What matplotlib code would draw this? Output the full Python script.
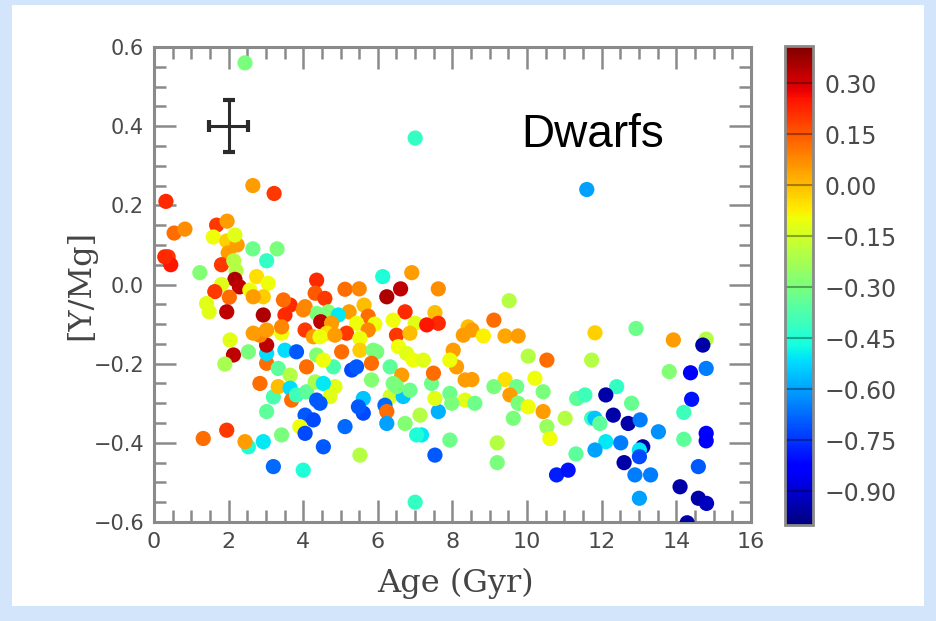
import numpy as np
import matplotlib
matplotlib.use('Agg')
import matplotlib.pyplot as plt
from matplotlib.patches import Rectangle
from matplotlib.ticker import MultipleLocator, FuncFormatter

# stellar age (Gyr), [Y/Mg] abundance and colour value ([Fe/H]) per star
age = [2.44, 7.00, 11.60, 2.65, 3.22, 0.32, 0.54, 0.83, 0.38, 0.45, 0.29, 1.23,
       1.68, 1.96, 1.59, 1.95, 2.23, 2.17, 1.99, 1.81, 2.14, 2.20, 2.65, 3.30,
       3.02, 2.17, 1.81, 2.29, 1.63, 2.02, 1.41, 1.48, 1.95, 2.57, 2.75, 3.06,
       2.93, 2.66, 2.93, 3.51, 3.65, 3.47, 4.05, 4.36, 4.32, 6.13, 6.91, 5.12,
       5.50, 6.61, 6.24, 7.62, 5.63, 5.23, 5.74, 6.73, 7.53, 4.58, 4.67, 4.94,
       4.36, 4.47, 4.76, 5.43, 5.92, 6.41, 7.00, 7.62, 7.31, 8.42, 8.29, 6.50,
       6.86, 5.74, 5.16, 5.52, 5.97, 6.33, 6.55, 6.77, 6.95, 6.64, 6.33, 6.68,
       6.50, 6.86, 6.19, 6.24, 6.24, 6.73, 7.13, 7.17, 7.04, 7.53, 7.93, 7.62,
       7.53, 7.93, 8.34, 7.98, 7.44, 7.49, 8.02, 8.11, 8.34, 7.93, 7.22, 7.00,
       5.52, 5.61, 5.61, 5.48, 5.12, 4.54, 4.00, 3.20, 3.42, 2.93, 2.53, 2.44,
       1.95, 1.32, 3.02, 3.20, 2.84, 2.04, 2.13, 2.53, 1.90, 3.02, 3.02, 3.02,
       2.84, 3.42, 3.51, 3.82, 3.33, 3.65, 4.09, 4.05, 3.33, 3.65, 3.69, 3.82,
       4.09, 4.32, 4.05, 4.27, 3.91, 4.05, 4.36, 4.63, 4.27, 4.36, 5.03, 5.52,
       5.88, 5.83, 5.30, 5.43, 4.81, 4.85, 4.54, 4.72, 4.45, 5.83, 6.41, 8.60,
       9.52, 9.11, 8.52, 8.83, 9.41, 9.76, 11.82, 10.03, 10.53, 11.73, 8.52, 9.41,
       10.21, 9.11, 9.72, 9.54, 10.43, 9.76, 10.03, 10.43, 9.63, 10.53, 11.02, 10.61,
       9.20, 9.20, 11.33, 11.55, 12.40, 12.11, 12.31, 11.73, 11.82, 11.95, 12.11, 11.82,
       11.31, 10.79, 11.10, 12.92, 13.92, 14.80, 14.71, 13.81, 14.38, 14.80, 12.80, 14.41,
       14.20, 12.71, 13.03, 13.52, 14.80, 14.20, 12.51, 13.10, 13.01, 13.01, 12.60, 12.89,
       13.31, 14.59, 14.10, 13.01, 14.59, 14.81, 14.29, 4.00, 4.45, 4.85, 4.54, 3.42,
       3.02, 2.66, 14.80]
y_mg = [0.560, 0.370, 0.240, 0.250, 0.230, 0.210, 0.130, 0.140, 0.070, 0.050, 0.070, 0.030,
        0.150, 0.160, 0.120, 0.110, 0.100, 0.125, 0.080, 0.050, 0.060, 0.035, 0.090, 0.090,
        0.060, 0.013, 0.000, -0.006, -0.018, -0.032, -0.048, -0.069, -0.069, -0.014, 0.020, 0.003,
        -0.031, -0.031, -0.077, -0.077, -0.052, -0.039, -0.056, 0.011, -0.022, 0.020, 0.030, -0.012,
        -0.011, -0.011, -0.031, -0.011, -0.052, -0.069, -0.080, -0.069, -0.071, -0.035, -0.069, -0.077,
        -0.073, -0.094, -0.098, -0.098, -0.100, -0.090, -0.098, -0.098, -0.102, -0.107, -0.128, -0.128,
        -0.123, -0.115, -0.123, -0.136, -0.170, -0.208, -0.157, -0.174, -0.191, -0.229, -0.283, -0.283,
        -0.258, -0.267, -0.305, -0.321, -0.351, -0.351, -0.330, -0.380, -0.380, -0.431, -0.393, -0.321,
        -0.288, -0.275, -0.292, -0.300, -0.250, -0.224, -0.166, -0.208, -0.241, -0.191, -0.191, -0.550,
        -0.431, -0.288, -0.325, -0.309, -0.359, -0.410, -0.469, -0.460, -0.380, -0.397, -0.410, -0.397,
        -0.368, -0.389, -0.321, -0.284, -0.250, -0.140, -0.178, -0.170, -0.201, -0.199, -0.174, -0.153,
        -0.128, -0.123, -0.166, -0.170, -0.212, -0.229, -0.208, -0.115, -0.258, -0.262, -0.292, -0.279,
        -0.271, -0.246, -0.330, -0.342, -0.359, -0.376, -0.292, -0.123, -0.132, -0.178, -0.170, -0.166,
        -0.166, -0.199, -0.216, -0.208, -0.208, -0.258, -0.250, -0.283, -0.300, -0.241, -0.250, -0.300,
        -0.041, -0.090, -0.115, -0.130, -0.130, -0.130, -0.122, -0.181, -0.191, -0.191, -0.240, -0.240,
        -0.237, -0.258, -0.258, -0.279, -0.271, -0.300, -0.309, -0.321, -0.338, -0.359, -0.338, -0.389,
        -0.400, -0.450, -0.288, -0.279, -0.258, -0.279, -0.330, -0.338, -0.338, -0.351, -0.397, -0.418,
        -0.428, -0.481, -0.469, -0.111, -0.140, -0.138, -0.153, -0.220, -0.223, -0.212, -0.300, -0.290,
        -0.323, -0.351, -0.342, -0.372, -0.376, -0.391, -0.400, -0.410, -0.418, -0.435, -0.450, -0.481,
        -0.481, -0.460, -0.511, -0.540, -0.540, -0.553, -0.602, -0.064, -0.132, -0.128, -0.191, -0.107,
        -0.115, -0.123, -0.395]
feh = [-0.30, -0.42, -0.60, 0.05, 0.20, 0.22, 0.12, 0.07, 0.20, 0.25, 0.22, -0.28,
       0.20, 0.05, -0.10, -0.03, 0.05, -0.12, 0.05, 0.20, -0.20, -0.20, -0.32, -0.30,
       -0.42, 0.35, -0.12, 0.33, 0.20, 0.12, -0.12, -0.12, 0.33, -0.10, -0.05, -0.10,
       -0.02, 0.05, 0.35, 0.22, 0.22, 0.12, 0.08, 0.22, 0.15, -0.45, 0.05, 0.12,
       0.08, 0.33, 0.35, 0.07, 0.00, 0.05, 0.12, 0.22, 0.00, 0.20, -0.28, -0.50,
       -0.30, 0.33, 0.05, -0.10, -0.10, -0.10, -0.12, 0.22, 0.25, 0.00, 0.05, 0.20,
       0.00, 0.08, 0.20, -0.10, -0.30, -0.35, -0.10, -0.12, -0.10, 0.05, -0.15, -0.55,
       -0.30, -0.32, -0.68, 0.12, -0.60, -0.28, -0.20, -0.50, -0.45, -0.70, -0.32, -0.58,
       -0.12, -0.32, -0.12, -0.30, -0.32, 0.12, 0.05, 0.05, 0.05, -0.10, -0.12, -0.42,
       -0.20, -0.55, -0.72, -0.70, -0.68, -0.70, -0.45, -0.68, -0.30, -0.50, -0.45, 0.05,
       0.20, 0.12, -0.35, -0.38, 0.12, -0.12, 0.33, -0.30, -0.22, 0.12, -0.52, 0.33,
       0.08, -0.10, -0.52, -0.70, -0.35, -0.20, 0.12, 0.20, 0.00, -0.52, 0.12, -0.40,
       -0.35, -0.22, -0.70, -0.72, -0.10, -0.72, -0.70, -0.05, 0.05, -0.28, 0.12, -0.02,
       -0.30, 0.12, -0.72, -0.70, -0.38, -0.12, -0.50, -0.12, -0.70, -0.28, -0.30, -0.32,
       -0.20, 0.12, 0.05, -0.08, 0.03, 0.05, -0.03, -0.20, 0.12, -0.20, 0.05, -0.05,
       -0.10, -0.30, -0.32, 0.05, -0.30, -0.30, -0.10, 0.05, -0.30, -0.25, -0.20, -0.10,
       -0.20, -0.30, -0.35, -0.40, -0.42, -0.95, -0.95, -0.40, -0.55, -0.35, -0.50, -0.60,
       -0.35, -0.78, -0.80, -0.32, 0.05, -0.20, -0.95, -0.28, -0.85, -0.65, -0.33, -0.80,
       -0.40, -0.95, -0.65, -0.62, -0.82, -0.35, -0.65, -0.95, -0.50, -0.72, -0.95, -0.65,
       -0.65, -0.70, -0.95, -0.60, -0.95, -0.92, -0.95, 0.08, -0.10, 0.05, -0.10, 0.08,
       0.05, 0.05, -0.85]

cbar_ticks = [0.30, 0.15, 0.00, -0.15, -0.30, -0.45, -0.60, -0.75, -0.90]

# typical uncertainty, drawn as a cross in the upper left
err_age, err_ymg = 0.53, 0.065

fig = plt.figure(figsize=(9.36, 6.21), dpi=100, facecolor='#d2e5fb')
fig.patches.append(Rectangle((0.013, 0.024), 0.974, 0.968, transform=fig.transFigure,
                             facecolor='white', edgecolor='none', zorder=-10))

ax = fig.add_axes([0.1645, 0.1594, 0.6378, 0.7649])
sc = ax.scatter(age, y_mg, c=feh, cmap='jet', vmin=-1.0, vmax=0.41,
                s=120, edgecolors='none', zorder=3)
ax.errorbar([2.0], [0.40], xerr=err_age, yerr=err_ymg, fmt='none', ecolor='#2b2b2b',
            elinewidth=2.2, capsize=4.5, capthick=3, zorder=4)

ax.set_xlim(0, 16)
ax.set_ylim(-0.6, 0.6)
ax.xaxis.set_major_locator(MultipleLocator(2))
ax.xaxis.set_minor_locator(MultipleLocator(0.5))
ax.yaxis.set_major_locator(MultipleLocator(0.2))
ax.yaxis.set_minor_locator(MultipleLocator(0.05))
ax.yaxis.set_major_formatter(FuncFormatter(lambda v, p: f'{v:.1f}'.replace('-', '\u2212')))
ax.tick_params(which='both', direction='in', top=True, right=True, color='#8a8a8a',
               width=1.8, labelcolor='#4a4a4a')
ax.tick_params(which='major', length=16)
ax.tick_params(which='minor', length=8.5)
ax.tick_params(axis='x', labelsize=16, pad=7)
ax.tick_params(axis='y', labelsize=15, pad=7)
for sp in ax.spines.values():
    sp.set_color('#8a8a8a')
    sp.set_linewidth(2.2)

ax.set_xlabel('Age (Gyr)', family='DejaVu Serif', fontsize=23, color='#444444')
ax.xaxis.set_label_coords(0.505, -0.097)
ax.set_ylabel('[Y/Mg]', family='DejaVu Serif', fontsize=23, color='#444444')
ax.yaxis.set_label_coords(-0.096, 0.5)

ax.text(0.616, 0.79, 'Dwarfs', transform=ax.transAxes, family='Liberation Sans',
        fontsize=33, color='black', ha='left', va='baseline')

cax = fig.add_axes([0.8387, 0.1546, 0.0299, 0.7713])
cbar = fig.colorbar(sc, cax=cax, ticks=cbar_ticks)
cbar.ax.yaxis.set_major_formatter(FuncFormatter(lambda v, p: f'{v:.2f}'.replace('-', '\u2212')))
cbar.ax.tick_params(length=0, pad=8, labelsize=17, labelcolor='#4a4a4a')
cbar.outline.set_edgecolor('#8a8a8a')
cbar.outline.set_linewidth(2)
for t in cbar_ticks:
    cbar.ax.axhline(t, color='black', alpha=0.35, lw=1.5)

fig.savefig('out.png', dpi=100, facecolor=fig.get_facecolor())
